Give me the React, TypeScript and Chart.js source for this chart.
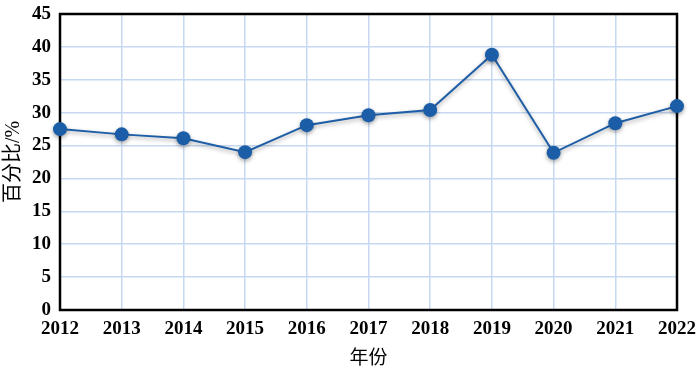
import React, { useEffect, useRef } from "react";
import { Chart, registerables } from "chart.js";

Chart.register(...registerables);

const years = ["2012", "2013", "2014", "2015", "2016", "2017", "2018", "2019", "2020", "2021", "2022"];
const percentages = [27.5, 26.7, 26.1, 24.0, 28.1, 29.6, 30.4, 38.8, 23.9, 28.4, 31.0];
const yTitle = "百分比/%";
const xTitle = "年份";

const FONT = "'Liberation Serif', 'Times New Roman', 'Noto Sans CJK SC', serif";

const frame = {
  id: "frame",
  beforeDatasetsDraw(chart: any) {
    const { ctx, chartArea: a } = chart;
    ctx.save();
    ctx.strokeStyle = "#000";
    ctx.lineWidth = 2.5;
    ctx.strokeRect(a.left, a.top, a.right - a.left, a.bottom - a.top);
    ctx.restore();
    ctx.save();
    ctx.shadowColor = "rgba(0,0,0,0.35)";
    ctx.shadowBlur = 4;
    ctx.shadowOffsetY = 2;
  },
  afterDatasetsDraw(chart: any) {
    chart.ctx.restore();
  },
};

export default function App() {
  const ref = useRef<HTMLCanvasElement>(null);
  useEffect(() => {
    const chart = new Chart(ref.current!, {
      type: "line",
      data: {
        labels: years,
        datasets: [
          {
            data: percentages,
            borderColor: "#1e5ea6",
            backgroundColor: "#1b5ea7",
            borderWidth: 2,
            pointRadius: 7,
            pointBorderWidth: 0,
            pointBackgroundColor: "#1b5ea7",
            tension: 0,
            clip: false as any,
          },
        ],
      },
      options: {
        animation: false,
        responsive: false,
        layout: { padding: { left: 0, right: 23, top: 14, bottom: 0 } },
        plugins: { legend: { display: false }, tooltip: { enabled: false } },
        scales: {
          x: {
            offset: false,
            grid: { color: "#c6d9f1", lineWidth: 1.5, drawTicks: false },
            border: { display: false },
            ticks: {
              color: "#000",
              padding: 8,
              maxRotation: 0,
              font: { family: FONT, size: 19, weight: "bold" },
            },
            title: {
              display: true,
              text: xTitle,
              color: "#000",
              padding: { top: 2, bottom: 0 },
              font: { family: FONT, size: 19, weight: "normal" },
            },
            afterFit(s: any) {
              s.height = 60;
              s.paddingLeft = 0;
              s.paddingRight = 0;
            },
          },
          y: {
            min: 0,
            max: 45,
            ticks: {
              stepSize: 5,
              color: "#000",
              padding: 9,
              font: { family: FONT, size: 19, weight: "bold" },
            },
            grid: { color: "#c6d9f1", lineWidth: 1.5, drawTicks: false },
            border: { display: false },
            title: {
              display: true,
              text: yTitle,
              color: "#000",
              padding: { top: 2, bottom: 0 },
              font: { family: FONT, size: 20, weight: "normal" },
            },
            afterFit(s: any) {
              s.width = 60;
              s.paddingTop = 0;
              s.paddingBottom = 0;
            },
          },
        },
      },
      plugins: [frame],
    });
    return () => chart.destroy();
  }, []);
  return (
    <div style={{ position: "fixed", left: 0, top: 0, width: 700, height: 370, background: "#fff" }}>
      <canvas ref={ref} width={700} height={370} />
    </div>
  );
}
